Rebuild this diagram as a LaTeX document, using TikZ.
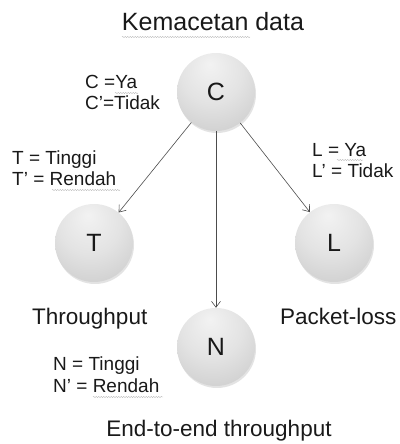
\documentclass[tikz,border=0pt]{standalone}
\usepackage{fontspec}
\setmainfont{Liberation Sans}
\usetikzlibrary{arrows.meta,shadows,decorations.pathmorphing}
\pgfdeclareradialshading{bnode}{\pgfpoint{-4bp}{18bp}}{%
  color(0bp)=(gray!10); color(20bp)=(gray!22); color(45bp)=(gray!45); color(65bp)=(gray!60); color(70bp)=(gray!60)}
\tikzset{
  bnet/.style={circle, minimum size=78pt, inner sep=0pt, shading=bnode,
    drop shadow={shadow xshift=1pt, shadow yshift=-2pt, opacity=0.22, fill=gray},
    font=\fontsize{25}{25}\selectfont, text=black!90},
  lbl/.style={anchor=base west, inner sep=0pt, font=\fontsize{19}{19}\selectfont, text=black!90},
  captxt/.style={anchor=base, inner sep=0pt, font=\fontsize{22.5}{22.5}\selectfont, text=black!90},
  link/.style={draw=black!70, line width=0.6pt, -{Straight Barb[length=6pt,width=9pt]}},
  squig/.style={draw=gray!55, line width=0.45pt, decorate, decoration={snake, amplitude=0.6pt, segment length=2.5pt}}
}
\begin{document}
\begin{tikzpicture}[x=1pt,y=1pt]
\useasboundingbox (0,0) rectangle (399,444);
\node[captxt, font=\fontsize{25}{25}\selectfont] (title) at (213,413) {Kemacetan data};
\node[bnet] (C) at (216,352) {C};
\node[bnet] (T) at (94,201) {T};
\node[bnet] (L) at (334,201) {L};
\node[bnet] (N) at (216,97) {N};
\draw[link] (C) -- (T);
\draw[link] (C) -- (L);
\draw[link] (C) -- (N);
\node[lbl] (c1) at (85,355) {C =Ya};
\node[lbl] (c2) at (85,334) {C’=Tidak};
\node[lbl] (t1) at (12,279) {T = Tinggi};
\node[lbl] (t2) at (12,258) {T’ = Rendah};
\node[lbl] (l1) at (312,287) {L = Ya};
\node[lbl] (l2) at (312,266) {L’ = Tidak};
\node[captxt, anchor=base west] (tp) at (32,119) {Throughput};
\node[captxt, anchor=base west] (pl) at (280,119) {Packet-loss};
\node[lbl] (n1) at (53,73) {N = Tinggi};
\node[lbl] (n2) at (53,51) {N’ = Rendah};
\node[captxt] (e2e) at (219,7) {End-to-end throughput};
\coordinate (s1a) at (122,407); \coordinate (s1b) at (250,407);
\coordinate (s2a) at (115,351); \coordinate (s2b) at (138,351);
\coordinate (s3a) at (52,254); \coordinate (s3b) at (120,254);
\coordinate (s4a) at (337,284); \coordinate (s4b) at (363,284);
\coordinate (s5a) at (93,47); \coordinate (s5b) at (163,47);
\draw[squig] (s1a) -- (s1b);
\draw[squig] (s2a) -- (s2b);
\draw[squig] (s3a) -- (s3b);
\draw[squig] (s4a) -- (s4b);
\draw[squig] (s5a) -- (s5b);
\end{tikzpicture}
\end{document}
